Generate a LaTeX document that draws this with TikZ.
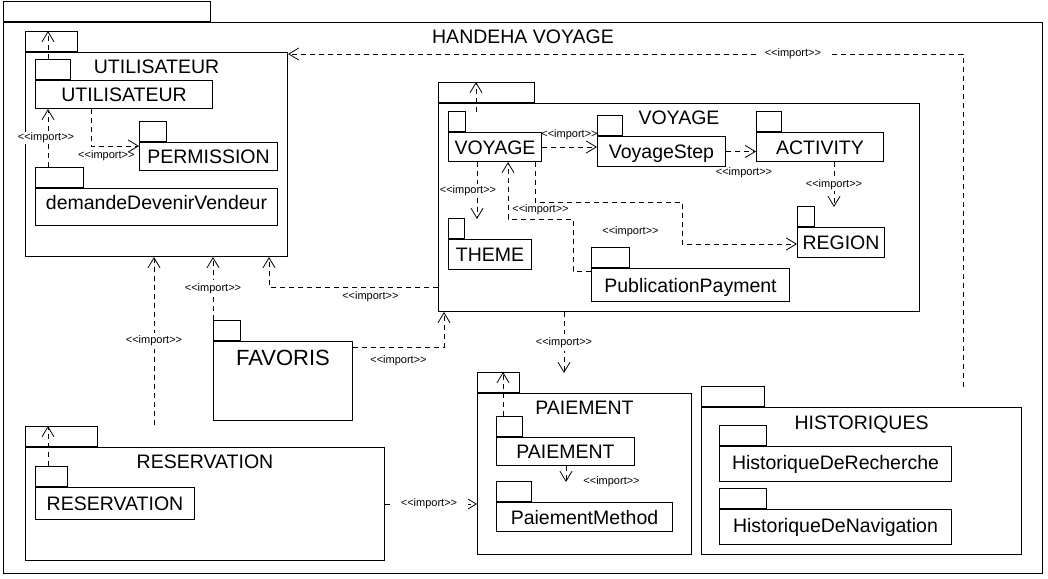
\documentclass[tikz,border=0pt]{standalone}
\usepackage{fontspec}
\newfontfamily\umlfont{Liberation Sans}
\usetikzlibrary{arrows.meta}
\newcommand{\imp}{<\kern0pt<import>\kern0pt>}

\tikzset{
  pkg/.style={draw, line width=1pt, anchor=north west, inner sep=0pt,
    font=\umlfont\fontsize{19.5}{22}\selectfont, text height=14pt, text depth=0pt},
  tab/.style={draw, line width=1pt, anchor=south west, inner sep=0pt, minimum height=20pt},
  pkgtitle/.style={anchor=base, inner sep=0pt, font=\umlfont\fontsize{19.5}{22}\selectfont},
  imp/.style={line width=0.8pt, dash pattern=on 5pt off 4pt, -{Straight Barb[length=10pt,width=12pt]}},
  lbl/.style={inner sep=1pt, font=\umlfont\fontsize{11}{12}\selectfont},
  lblw/.style={lbl, fill=white}
}

\begin{document}
\begin{tikzpicture}[x=1pt, y=-1pt]
                \useasboundingbox (0,0) rectangle (1048,578);

                \node[pkg, minimum width=1039, minimum height=551] (root) at (3,22) {};
                \node[tab, minimum width=207] (rootTab) at (root.north west) {};
                \node[pkgtitle] (rootTitle) at ([yshift=-21.5pt]root.north) {HANDEHA VOYAGE};

                % UTILISATEUR
                \node[pkg, minimum width=262, minimum height=204] (utilPkg) at (25,52) {};
                \node[tab, minimum width=52] (utilTab) at (utilPkg.north west) {};
                \node[pkgtitle] (utilTitle) at ([yshift=-21.5pt]utilPkg.north) {UTILISATEUR};

                \node[pkg, minimum width=177, minimum height=28] (utilInner) at (35,80) {UTILISATEUR};
                \node[tab, minimum width=35] (utilInnerTab) at (utilInner.north west) {};
                \node[pkg, minimum width=138, minimum height=28] (permission) at (139,142) {PERMISSION};
                \node[tab, minimum width=27] (permissionTab) at (permission.north west) {};
                \node[pkg, minimum width=242, minimum height=37, text depth=9pt] (demande) at (35,188) {demandeDevenirVendeur};
                \node[tab, minimum width=48] (demandeTab) at (demande.north west) {};

                % VOYAGE
                \node[pkg, minimum width=481, minimum height=208] (voyagePkg) at (438,103) {};
                \node[tab, minimum width=96] (voyageTab) at (voyagePkg.north west) {};
                \node[pkgtitle] (voyageTitle) at ([yshift=-21.5pt]voyagePkg.north) {VOYAGE};

                \node[pkg, minimum width=93, minimum height=29] (voyageInner) at (448,132) {VOYAGE};
                \node[tab, minimum width=17] (voyageInnerTab) at (voyageInner.north west) {};
                \node[pkg, minimum width=128, minimum height=30] (voyageStep) at (597,136) {VoyageStep};
                \node[tab, minimum width=25] (voyageStepTab) at (voyageStep.north west) {};
                \node[pkg, minimum width=127, minimum height=29] (activity) at (756,132) {ACTIVITY};
                \node[tab, minimum width=25] (activityTab) at (activity.north west) {};
                \node[pkg, minimum width=83, minimum height=30] (theme) at (448,239) {THEME};
                \node[tab, minimum width=16] (themeTab) at (theme.north west) {};
                \node[pkg, minimum width=87, minimum height=30] (region) at (797,227) {REGION};
                \node[tab, minimum width=17] (regionTab) at (region.north west) {};
                \node[pkg, minimum width=198, minimum height=33] (publication) at (591,268) {PublicationPayment};
                \node[tab, minimum width=38] (publicationTab) at (publication.north west) {};

                % FAVORIS
                \node[pkg, minimum width=139, minimum height=79] (favoris) at (213,341) {};
                \node[tab, minimum width=27] (favorisTab) at (favoris.north west) {};
                \node[pkgtitle, font=\umlfont\fontsize{22}{24}\selectfont] (favorisTitle) at ([yshift=-24pt]favoris.north) {FAVORIS};

                % RESERVATION
                \node[pkg, minimum width=359, minimum height=113] (resPkg) at (25,447) {};
                \node[tab, minimum width=72] (resTab) at (resPkg.north west) {};
                \node[pkgtitle] (resTitle) at ([yshift=-21pt]resPkg.north) {RESERVATION};
                \node[pkg, minimum width=159, minimum height=32] (resInner) at (35,487) {RESERVATION};
                \node[tab, minimum width=32] (resInnerTab) at (resInner.north west) {};

                % PAIEMENT
                \node[pkg, minimum width=214, minimum height=161] (paiementPkg) at (477,393) {};
                \node[tab, minimum width=42] (paiementTab) at (paiementPkg.north west) {};
                \node[pkgtitle] (paiementTitle) at ([yshift=-21pt]paiementPkg.north) {PAIEMENT};
                \node[pkg, minimum width=138, minimum height=28] (paiementInner) at (496,437) {PAIEMENT};
                \node[tab, minimum width=26] (paiementInnerTab) at (paiementInner.north west) {};
                \node[pkg, minimum width=176, minimum height=29] (paiementMethod) at (496,502) {PaiementMethod};
                \node[tab, minimum width=35] (paiementMethodTab) at (paiementMethod.north west) {};

                % HISTORIQUES
                \node[pkg, minimum width=320, minimum height=147] (historiques) at (701,407) {};
                \node[tab, minimum width=63] (historiquesTab) at (historiques.north west) {};
                \node[pkgtitle] (historiquesTitle) at ([yshift=-22pt]historiques.north) {HISTORIQUES};
                \node[pkg, minimum width=232, minimum height=35, text depth=3pt] (recherche) at (719,446) {HistoriqueDeRecherche};
                \node[tab, minimum width=47] (rechercheTab) at (recherche.north west) {};
                \node[pkg, minimum width=232, minimum height=35, text depth=3pt] (navigation) at (719,509) {HistoriqueDeNavigation};
                \node[tab, minimum width=47] (navigationTab) at (navigation.north west) {};

                % imports inside UTILISATEUR
                \draw[imp] ([xshift=13pt]utilInnerTab.north west) -- ([xshift=23pt]utilTab.north west);
                \draw[imp] ([xshift=13pt]demandeTab.north west) -- node[lblw, xshift=-2pt] {\imp} ([xshift=13pt]utilInner.south west);
                \draw[imp] ([xshift=56pt]utilInner.south west) |- node[lbl, below=3pt, pos=0.66] {\imp} ([yshift=-4pt]permission.north west);

                % imports inside VOYAGE
                \draw[imp] ([xshift=28pt,yshift=20pt]voyageInner.north west) -- ([xshift=38pt]voyageTab.north west);
                \draw[imp] (voyageInner.east) -- node[lbl, above=6pt] {\imp} (voyageInner.east -| voyageStep.west);
                \draw[imp] (voyageStep.east) -- node[lbl, below=15pt, xshift=3pt] {\imp} (voyageStep.east -| activity.west);
                \draw[imp] ([xshift=78pt]activity.south west) -- node[lblw] {\imp} ([xshift=37pt,yshift=20pt]region.north west);
                \draw[imp] ([xshift=29pt]voyageInner.south west) -- node[lblw, xshift=-9pt] {\imp} ([xshift=29pt,yshift=20pt]theme.north west);
                \draw[imp] ([yshift=-3pt]publication.north west) -- ++(-18,0) -- ++(0,-52)
                    -| node[lbl, above=3pt, pos=0.25] {\imp} ([xshift=60pt]voyageInner.south west);
                \draw[imp] ([xshift=87pt]voyageInner.south west) -- ++(0,40) -- ++(147,0)
                    |- node[lbl, pos=0.35, left=22pt] {\imp} ([yshift=-17pt]region.north west);

                % imports between packages
                \draw[imp] ([xshift=262pt,yshift=20pt]historiques.north west) |- node[lblw, inner xsep=8pt, pos=0.626] {\imp} ([yshift=-2pt]utilPkg.north east);
                \draw[imp] ([xshift=129pt,yshift=22pt]resPkg.north west) -- node[lblw, inner ysep=3pt] {\imp} ([xshift=129pt]utilPkg.south west);
                \draw[imp] (favorisTab.north west) -- node[lblw, inner ysep=3pt] {\imp} (favorisTab.north west |- utilPkg.south);
                \draw[imp] ([yshift=-184pt]voyagePkg.north west) -| node[lbl, below=3pt, pos=0.2] {\imp} ([xshift=244pt]utilPkg.south west);
                \draw[imp] ([yshift=-6pt]favoris.north east) -| node[lbl, below=7pt, pos=0.25] {\imp} ([xshift=6pt]voyagePkg.south west);
                \draw[imp] ([xshift=126pt]voyagePkg.south west) -- node[lblw, inner ysep=3pt] {\imp} ([xshift=87pt,yshift=20pt]paiementPkg.north west);
                \draw[imp] ([yshift=-57pt]resPkg.north east) -- node[lblw, inner xsep=11pt, xshift=-2pt] {\imp} ([yshift=-111pt]paiementPkg.north west);

                % imports inside PAIEMENT and RESERVATION
                \draw[imp] ([xshift=7pt]paiementInnerTab.north west) -- ([xshift=26pt]paiementTab.north west);
                \draw[imp] ([xshift=70pt]paiementInner.south west) -- ([xshift=70pt,yshift=20pt]paiementMethod.north west) node[lbl, right=16pt] {\imp};
                \draw[imp] ([xshift=13pt]resInnerTab.north west) -- ([xshift=23pt]resTab.north west);
            \end{tikzpicture}
\end{document}
